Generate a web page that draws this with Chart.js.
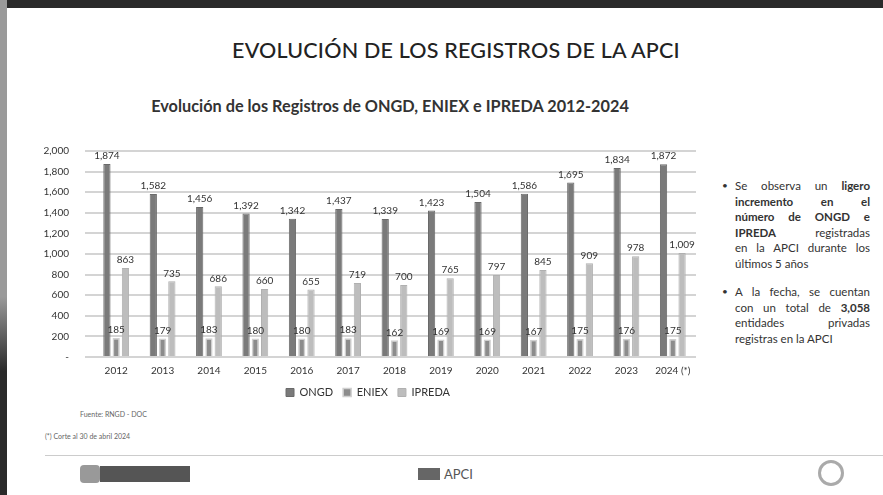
<!DOCTYPE html>
<html>
<head>
<meta charset="utf-8">
<script src="https://cdn.jsdelivr.net/npm/chart.js@4"></script>
<style>
  html, body { margin:0; padding:0; background:#fff; }
  body { width:883px; height:495px; position:relative; overflow:hidden; font-family:Lato, "Open Sans", sans-serif; color:#222; }
  .topbar { position:absolute; left:0; top:0; width:883px; height:8px; background:#2a2a2a; }
  .leftbar { position:absolute; left:0; top:0; width:7px; height:495px; background:linear-gradient(#9a9a9a, #9a9a9a 60%, #2a2a2a 75%); }
  h1 { position:absolute; left:0; width:912px; top:37px; margin:0; text-align:center; font-size:21.5px; font-weight:500; letter-spacing:0.2px; }
  h2 { position:absolute; left:0; width:780px; top:96px; margin:0; text-align:center; font-size:16.3px; font-weight:bold; color:#333; }
  #wrap { position:absolute; left:40px; top:129px; width:660px; height:279px; }
  .side { position:absolute; left:722px; top:178px; width:148px; font-size:11.5px; line-height:15.5px; color:#333; }
  .side .b { position:relative; padding-left:13px; margin-bottom:13px; }
  .side .b::before { content:'\2022'; position:absolute; left:0; top:0; font-size:10px; }
  .side span { display:block; text-align:justify; text-align-last:justify; }
  .side span.last { text-align-last:left; }
  .note1 { position:absolute; left:80px; top:410px; font-size:7px; color:#666; }
  .note2 { position:absolute; left:45px; top:432px; font-size:7px; color:#666; }
  .line { position:absolute; left:45px; top:455px; width:838px; height:1px; background:#ccc; }
  .logo1 { position:absolute; left:80px; top:465px; width:20px; height:18px; background:#999; border-radius:4px; }
  .logo1b { position:absolute; left:100px; top:466px; width:90px; height:16px; background:#555; }
  .apci { position:absolute; left:418px; top:466px; font-size:13px; color:#555; }
  .apci b { display:inline-block; width:22px; height:12px; background:#666; margin-right:4px; vertical-align:-1px; }
  .logo3 { position:absolute; left:818px; top:460px; width:26px; height:26px; border-radius:50%; border:3px solid #aaa; box-sizing:border-box; }
</style>
</head>
<body>
<div class="topbar"></div>
<div class="leftbar"></div>
<h1>EVOLUCIÓN DE LOS REGISTROS DE LA APCI</h1>
<h2>Evolución de los Registros de ONGD, ENIEX e IPREDA 2012-2024</h2>
<div id="wrap"><canvas id="c"></canvas></div>
<div class="side">
  <div class="b">
    <span>Se observa un <b>ligero</b></span>
    <span><b>incremento en el</b></span>
    <span><b>número de ONGD e</b></span>
    <span><b>IPREDA</b> registradas</span>
    <span>en la APCI durante los</span>
    <span class="last">últimos 5 años</span>
  </div>
  <div class="b">
    <span>A la fecha, se cuentan</span>
    <span>con un total de <b>3,058</b></span>
    <span>entidades privadas</span>
    <span class="last">registras en la APCI</span>
  </div>
</div>
<div class="note1">Fuente: RNGD - DOC</div>
<div class="note2">(*) Corte al 30 de abril 2024</div>
<div class="line"></div>
<div class="logo1"></div><div class="logo1b"></div>
<div class="apci"><b></b>APCI</div>
<div class="logo3"></div>
<script>
const years = ['2012','2013','2014','2015','2016','2017','2018','2019','2020','2021','2022','2023','2024 (*)'];
const ongd = [1874, 1582, 1456, 1392, 1342, 1437, 1339, 1423, 1504, 1586, 1695, 1834, 1872];
const eniex = [185, 179, 183, 180, 180, 183, 162, 169, 169, 167, 175, 176, 175];
const ipreda = [863, 735, 686, 660, 655, 719, 700, 765, 797, 845, 909, 978, 1009];
const yTicks = [0, 200, 400, 600, 800, 1000, 1200, 1400, 1600, 1800, 2000];

const fmt = v => v.toLocaleString('en-US');

// etiquetas de valor encima de cada barra
const valueLabels = {
  id: 'valueLabels',
  afterDatasetsDraw(chart) {
    const ctx = chart.ctx;
    ctx.save();
    ctx.font = '10px Lato, sans-serif';
    ctx.fillStyle = '#333';
    ctx.textAlign = 'center';
    ctx.textBaseline = 'bottom';
    chart.data.datasets.forEach((ds, i) => {
      chart.getDatasetMeta(i).data.forEach((bar, j) => {
        ctx.fillText(fmt(ds.data[j]), bar.x, bar.y - 3);
      });
    });
    ctx.restore();
  }
};

new Chart(document.getElementById('c'), {
  type: 'bar',
  data: {
    labels: years,
    datasets: [
      { label: 'ONGD', data: ongd, backgroundColor: '#7a7a7a', borderColor: '#6a6a6a', borderWidth: 1 },
      { label: 'ENIEX', data: eniex, backgroundColor: '#8c8c8c', borderColor: '#d0d0d0', borderWidth: 1.5 },
      { label: 'IPREDA', data: ipreda, backgroundColor: '#bdbdbd', borderColor: '#b0b0b0', borderWidth: 1 }
    ]
  },
  options: {
    responsive: true,
    maintainAspectRatio: false,
    animation: false,
    categoryPercentage: 0.6,
    barPercentage: 0.78,
    layout: { padding: { top: 4, right: 4 } },
    plugins: {
      legend: {
        position: 'bottom',
        labels: { boxWidth: 8, boxHeight: 8, font: { size: 11, family: 'Lato' }, color: '#333', padding: 10 }
      },
      tooltip: { enabled: false }
    },
    scales: {
      x: {
        grid: { display: false },
        border: { display: false },
        ticks: { font: { size: 10, family: 'Lato' }, color: '#333', maxRotation: 0, padding: 0 }
      },
      y: {
        min: 0, max: 2000,
        afterFit: s => { s.width = 53; },
        afterBuildTicks: s => { s.ticks = yTicks.map(v => ({ value: v })); },
        grid: { color: '#d4d4d4', lineWidth: 2 },
        border: { display: false },
        ticks: {
          font: { size: 10, family: 'Lato' }, color: '#333', padding: 16,
          callback: v => v === 0 ? '-' : fmt(v)
        }
      }
    }
  },
  plugins: [valueLabels]
});
</script>
</body>
</html>
